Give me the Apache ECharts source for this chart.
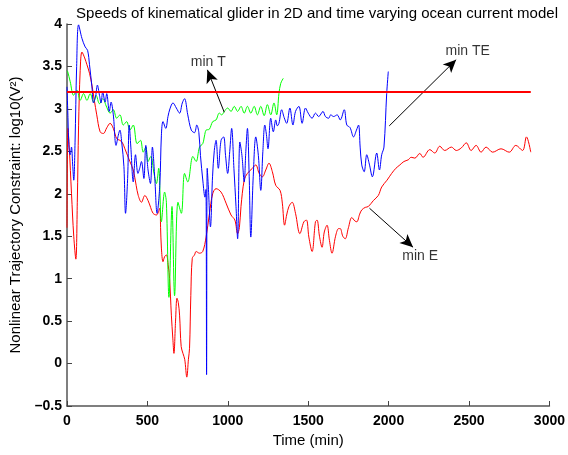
<!DOCTYPE html>
<html><head><meta charset="utf-8">
<script src="https://cdn.jsdelivr.net/npm/echarts@6/dist/echarts.min.js"></script>
<style>html,body{margin:0;padding:0;background:#fff}#c{width:568px;height:455px}</style>
</head><body><div id="c"></div>
<script>
var titleText = 'Speeds of kinematical glider in 2D and time varying ocean current model';
var xName = 'Time (min)';
var yName = 'Nonlinear Trajectory Constraint: log10(V\u00B2)';
var xTicks = [0, 500, 1000, 1500, 2000, 2500, 3000];
var yTicks = [-0.5, 0, 0.5, 1, 1.5, 2, 2.5, 3, 3.5, 4];

// min E (red)
var minE = [[0,1.6],[6,2.77],[14,2.55],[28,2.0],[42,1.5],[55,1.23],[64,1.9],[72,2.8],[82,3.45],[93,3.67],[110,3.6],[124,3.52],[140,3.42],[155,3.28],[170,3.1],[185,2.93],[206,2.73],[226,2.71],[248,2.78],[268,2.83],[288,2.77],[309,2.65],[329,2.63],[345,2.6],[360,2.53],[391,2.38],[412,2.28],[430,2.1],[443,1.98],[463,1.9],[484,1.98],[504,1.92],[520,1.84],[535,1.77],[556,1.75],[577,1.83],[582,1.6],[587,1.36],[597,1.2],[607,1.26],[618,1.28],[630,1.15],[638,1.0],[649,0.57],[658,0.3],[665,0.12],[675,0.5],[684,0.77],[692,0.72],[700,0.57],[710,0.2],[721,0.12],[732,0.05],[745,-0.16],[755,0.05],[762,0.18],[770,0.8],[779,1.24],[793,1.28],[803,1.32],[824,1.30],[844,1.32],[865,1.49],[886,1.77],[906,2.0],[927,2.06],[958,2.02],[989,1.89],[1020,1.75],[1044,1.69],[1061,1.53],[1072,1.6],[1082,1.85],[1102,2.16],[1122,2.24],[1153,2.30],[1174,2.34],[1195,2.24],[1215,2.20],[1236,2.28],[1256,2.36],[1277,2.26],[1298,2.10],[1325,2.04],[1339,1.89],[1353,1.63],[1366,1.75],[1380,1.85],[1400,1.90],[1421,1.77],[1448,1.53],[1473,1.67],[1489,1.69],[1504,1.49],[1524,1.32],[1545,1.67],[1555,1.69],[1570,1.5],[1586,1.37],[1600,1.55],[1617,1.63],[1632,1.45],[1648,1.30],[1670,1.5],[1689,1.59],[1699,1.59],[1715,1.5],[1730,1.47],[1750,1.6],[1771,1.72],[1790,1.68],[1802,1.67],[1820,1.76],[1833,1.81],[1855,1.84],[1874,1.85],[1905,1.92],[1936,1.98],[1957,2.08],[1990,2.16],[2019,2.24],[2045,2.3],[2070,2.34],[2095,2.38],[2122,2.40],[2140,2.43],[2163,2.42],[2194,2.475],[2214,2.43],[2256,2.52],[2287,2.48],[2318,2.56],[2349,2.51],[2390,2.55],[2421,2.51],[2452,2.54],[2483,2.60],[2513,2.51],[2544,2.57],[2575,2.49],[2606,2.55],[2647,2.49],[2699,2.53],[2750,2.49],[2791,2.57],[2833,2.51],[2857,2.67],[2884,2.49]];

// min T (green)
var minT = [[0,3.45],[4,3.44],[20,3.32],[41,3.16],[62,3.22],[82,3.10],[103,3.18],[124,3.10],[144,3.18],[165,3.08],[181,3.16],[202,3.06],[222,3.12],[247,3.02],[268,2.95],[288,2.99],[309,2.89],[329,2.93],[350,2.81],[371,2.85],[391,2.75],[412,2.81],[436,2.59],[457,2.63],[474,2.49],[490,2.55],[504,2.38],[521,2.44],[541,2.24],[556,2.12],[570,2.30],[587,1.67],[607,2.02],[618,1.9],[634,0.78],[653,1.85],[669,0.80],[690,1.90],[711,1.77],[731,2.24],[751,2.14],[783,2.44],[803,2.38],[824,2.55],[844,2.59],[855,2.68],[865,2.75],[885,2.76],[906,2.85],[927,2.87],[947,2.95],[962,2.93],[978,2.97],[999,3.01],[1020,2.97],[1040,3.03],[1061,2.97],[1082,3.03],[1102,2.95],[1122,3.03],[1143,2.95],[1164,3.03],[1184,2.93],[1205,3.03],[1226,2.92],[1246,3.05],[1267,2.93],[1287,3.07],[1304,2.93],[1318,3.18],[1329,3.30],[1345,3.36]];

// min TE (blue)
var minTE = [[0,3.26],[6,2.9],[12,2.55],[20,2.46],[28,2.55],[35,2.35],[42,2.16],[50,2.6],[60,3.5],[72,3.99],[93,3.83],[113,3.73],[128,3.69],[140,3.52],[155,3.26],[165,3.07],[178,3.15],[189,3.28],[202,3.16],[212,3.07],[222,3.20],[237,3.08],[247,3.18],[263,2.97],[274,3.08],[288,2.93],[305,2.57],[319,2.69],[329,2.75],[340,2.61],[354,2.32],[364,1.77],[377,2.18],[387,2.81],[397,2.55],[412,2.14],[426,2.46],[441,2.24],[452,2.3],[463,2.38],[478,2.18],[490,2.57],[504,2.28],[519,2.12],[531,2.55],[546,2.18],[560,1.77],[577,2.10],[587,2.69],[597,2.85],[614,2.77],[628,2.91],[640,3.0],[659,3.07],[680,3.01],[700,2.95],[717,3.07],[731,3.12],[751,2.93],[773,2.75],[793,2.72],[807,2.81],[820,2.72],[830,2.45],[845,2.15],[858,1.96],[864,2.05],[868,-0.13],[872,2.3],[879,2.08],[892,1.61],[905,2.2],[916,2.51],[927,2.63],[941,2.30],[958,2.63],[974,2.67],[986,2.45],[999,2.24],[1012,2.5],[1024,2.77],[1038,2.3],[1051,1.85],[1061,1.47],[1075,2.61],[1088,2.45],[1102,2.14],[1112,2.5],[1122,2.77],[1133,2.2],[1143,1.49],[1158,2.2],[1174,2.67],[1190,2.45],[1205,2.04],[1218,2.5],[1230,2.81],[1240,2.7],[1250,2.53],[1267,2.89],[1283,2.73],[1298,2.87],[1308,2.8],[1318,2.83],[1335,2.99],[1350,2.9],[1366,2.83],[1386,3.01],[1405,2.81],[1421,2.97],[1442,3.03],[1462,2.83],[1483,3.01],[1500,2.95],[1524,2.89],[1545,2.95],[1565,2.91],[1592,2.97],[1607,2.91],[1627,2.89],[1640,2.93],[1658,2.91],[1680,2.93],[1699,2.87],[1724,2.99],[1740,2.81],[1760,2.78],[1782,2.67],[1800,2.75],[1813,2.81],[1823,2.55],[1833,2.34],[1848,2.26],[1864,2.46],[1880,2.35],[1899,2.20],[1926,2.48],[1943,2.28],[1957,2.46],[1971,2.55],[1988,3.18],[1998,3.44]];

// threshold line (red)
var limitX = [0, 2884];
var limitY = 3.2;

// annotations: [tailX, tailY, tipX, tipY]
var arrows = [[978,2.96,873,3.46],[2004,2.80,2420,3.58],[1881,1.83,2152,1.37]];
var labelNames = ['min T', 'min TE', 'min E'];
var labelPos = [[879,3.55],[2492,3.68],[2196,1.27]];

var FONT = 'Arial';
var chart = echarts.init(document.getElementById('c'), null, {renderer: 'canvas'});
function fmt(v){ var s = String(v); return s.replace('-', '\u2013'); }

var option = {
  animation: false,
  backgroundColor: '#fff',
  title: {text: titleText, left: 312, top: 1, textAlign: 'center',
    textStyle: {fontFamily: FONT, fontSize: 15, fontWeight: 'normal', color: '#000'}},
  grid: {left: 67, right: 16, top: 24, bottom: 49, containLabel: false},
  xAxis: {type: 'value', min: xTicks[0], max: xTicks[xTicks.length-1], interval: 500,
    name: xName, nameLocation: 'middle', nameGap: 25,
    nameTextStyle: {fontFamily: FONT, fontSize: 15, color: '#000'},
    axisLine: {onZero: false, lineStyle: {color: '#555', width: 1.5}},
    axisTick: {inside: true, length: 5, lineStyle: {color: '#444', width: 1}},
    axisLabel: {fontFamily: FONT, fontSize: 14, fontWeight: 700, color: '#000', margin: 8, formatter: fmt},
    splitLine: {show: false}},
  yAxis: {type: 'value', min: yTicks[0], max: yTicks[yTicks.length-1], interval: 0.5,
    name: yName, nameLocation: 'middle', nameGap: 40, nameRotate: 90,
    nameTextStyle: {fontFamily: FONT, fontSize: 15, color: '#000'},
    axisLine: {onZero: false, lineStyle: {color: '#555', width: 1.5}},
    axisTick: {inside: true, length: 5, lineStyle: {color: '#444', width: 1}},
    axisLabel: {fontFamily: FONT, fontSize: 14, fontWeight: 700, color: '#000', margin: 5, formatter: fmt},
    splitLine: {show: false}},
  series: [
    {name: 'min E', type: 'line', data: minE, showSymbol: false, smooth: 0.35,
      lineStyle: {color: '#ff0000', width: 1}, z: 2},
    {name: 'min T', type: 'line', data: minT, showSymbol: false, smooth: 0.35,
      lineStyle: {color: '#00ff00', width: 1}, z: 3},
    {name: 'min TE', type: 'line', data: minTE, showSymbol: false, smooth: 0.35,
      lineStyle: {color: '#0000ff', width: 1}, z: 4},
    {name: 'limit', type: 'line', data: limitX.map(function(x){return [x, limitY];}), showSymbol: false,
      lineStyle: {color: '#ff0000', width: 2}, z: 5,
      markLine: {silent: true, symbol: ['none', 'arrow'], symbolSize: [9, 13],
        lineStyle: {color: '#000', width: 1, type: 'solid'}, label: {show: false},
        data: arrows.map(function(a){ return [{coord: [a[0], a[1]]}, {coord: [a[2], a[3]]}]; })}},
    {name: 'labels', type: 'scatter', symbolSize: 0, z: 6,
      data: labelPos.map(function(p, i){ return {name: labelNames[i], value: p}; }),
      label: {show: true, position: 'inside', formatter: '{b}',
        fontFamily: FONT, fontSize: 14, color: '#000'}}
  ]
};
chart.setOption(option);
</script></body></html>
